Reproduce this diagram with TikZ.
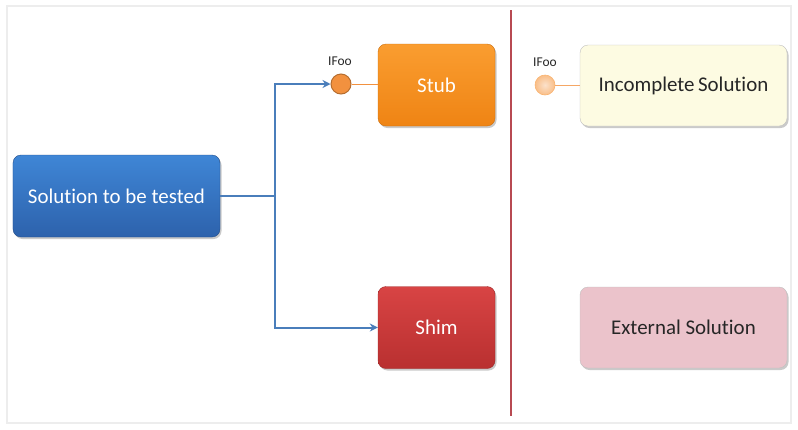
\documentclass[tikz,border=0pt]{standalone}
\usepackage{fontspec}
\setmainfont[Ligatures=NoCommon]{Carlito}
\usetikzlibrary{arrows.meta,shadows}
\definecolor{bluetop}{HTML}{3F86D6}
\definecolor{bluebot}{HTML}{2D62AC}
\definecolor{blueline}{HTML}{4A7EBB}
\definecolor{orangetop}{HTML}{FA9D30}
\definecolor{orangebot}{HTML}{EF8414}
\definecolor{redtop}{HTML}{D84444}
\definecolor{redbot}{HTML}{B93030}
\definecolor{divider}{HTML}{B84A52}
\definecolor{paleyellow}{HTML}{FDFBE2}
\definecolor{palepink}{HTML}{EBC3CB}
\definecolor{ifaceorange}{HTML}{F2913F}
\definecolor{ifacepale}{HTML}{F8C9A0}
\tikzset{
  box/.style={rounded corners=8bp, minimum width=117bp, minimum height=82bp,
    text=white, font=\fontsize{21}{24}\selectfont,
    drop shadow={shadow xshift=1.5bp, shadow yshift=-2bp, opacity=0.35, fill=black!60}},
  bluebox/.style={box, top color=bluetop, bottom color=bluebot, draw=bluebot!80!black},
  orangebox/.style={box, top color=orangetop, bottom color=orangebot, draw=orangebot!85!black},
  redbox/.style={box, top color=redtop, bottom color=redbot, draw=redbot!85!black},
  palebox/.style={rounded corners=8bp, minimum width=207bp, minimum height=81bp,
    text=black!85, font=\fontsize{21}{24}\selectfont, draw=black!25,
    drop shadow={shadow xshift=1.5bp, shadow yshift=-2bp, opacity=0.35, fill=black!60}},
  iface/.style={circle, minimum size=20bp, inner sep=0pt},
  ifacelabel/.style={font=\fontsize{13.5}{15}\selectfont, text=black!85},
  conn/.style={draw=blueline, line width=2bp, -{Stealth[length=8bp,width=8bp]}},
}
\begin{document}
\begin{tikzpicture}[x=1bp,y=-1bp]
\useasboundingbox (0,0) rectangle (798,429);
\draw[draw=black!7, line width=2bp] (7,6) rectangle (791,423);

\node[bluebox, minimum width=207bp] (sut) at (116.5,196) {Solution to be tested};
\node[orangebox] (stub) at (436.5,85) {Stub};
\node[redbox] (shim) at (436.5,327.5) {Shim};

\node[iface, fill=ifaceorange, draw=ifaceorange!75!black, line width=1bp] (i1) at (341,84) {};
\node[ifacelabel] (l1) at (340,61) {IFoo};
\draw[ifaceorange, line width=0.8bp] (i1.east) -- (stub.west |- i1.east);

\coordinate (branch) at (275,196);
\draw[draw=blueline, line width=2bp] (sut.east) -- (branch);
\draw[conn] (branch) |- (i1.west);
\draw[conn] (branch) |- (shim.west);

\coordinate (dtop) at (511,10);
\coordinate (dbot) at (511,416);
\draw[divider, line width=2bp] (dtop) -- (dbot);

\node[palebox, fill=paleyellow] (inc) at (683.5,85.5) {Incomplete\,Solution};
\node[palebox, fill=palepink] (ext) at (683.5,327.5) {External Solution};

\node[iface, inner color=ifacepale!55!white, outer color=ifacepale!85!orange, draw=ifacepale!70!orange, line width=0.6bp] (i2) at (545,85) {};
\node[ifacelabel] (l2) at (545,62) {IFoo};
\draw[ifaceorange!80, line width=0.8bp] (i2.east) -- (inc.west |- i2.east);
\end{tikzpicture}
\end{document}
